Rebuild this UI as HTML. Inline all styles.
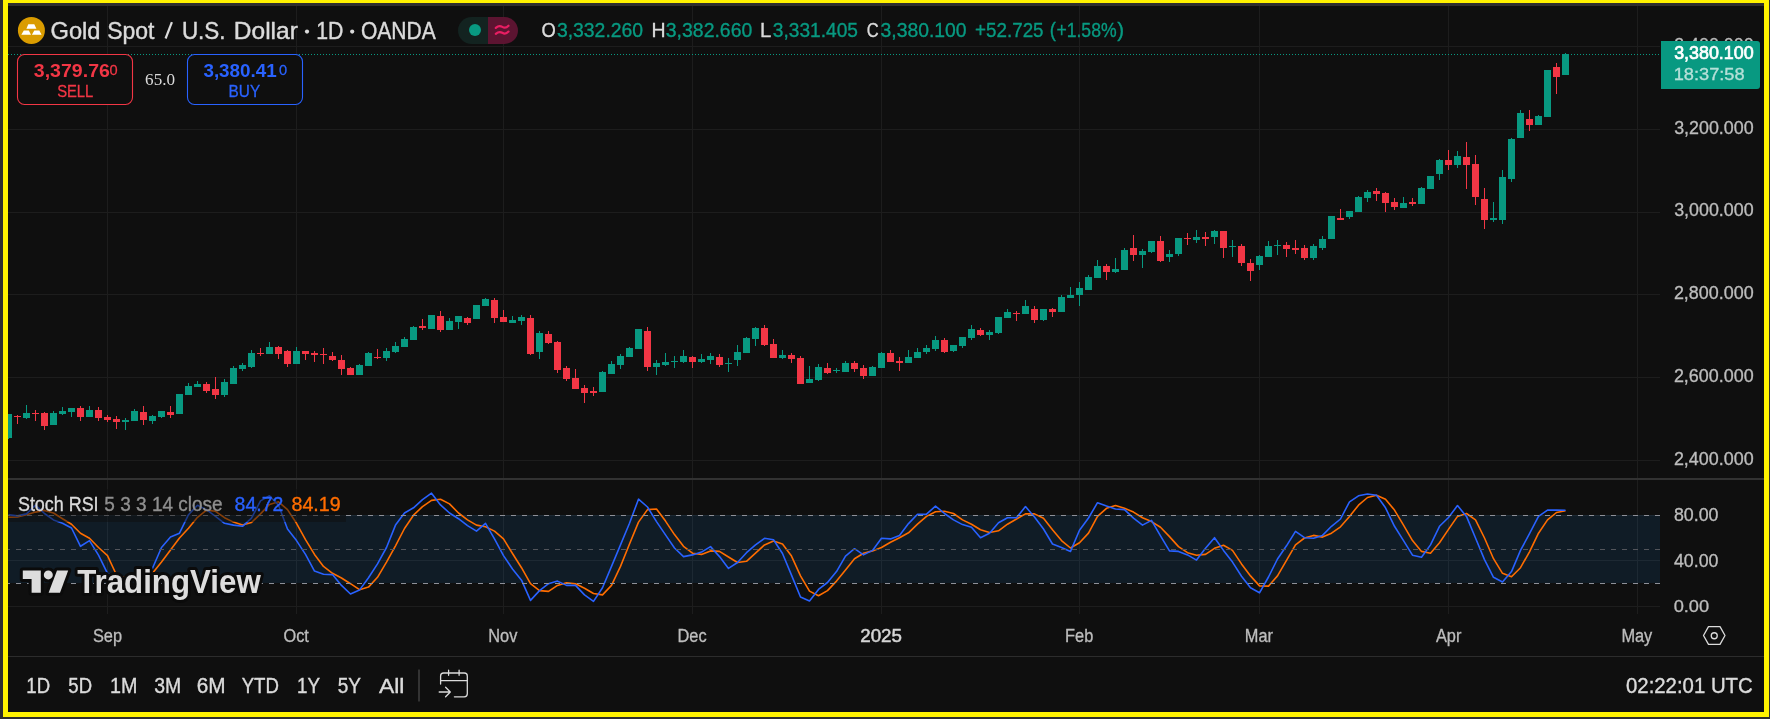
<!DOCTYPE html>
<html><head><meta charset="utf-8"><style>
html,body{margin:0;padding:0}
body{width:1770px;height:719px;background:#2e2e2e;overflow:hidden;position:relative;font-family:"Liberation Sans",sans-serif}
#frame{position:absolute;left:3px;top:-2px;width:1766px;height:719px;border:5px solid #fff200;box-sizing:border-box}
#app{position:absolute;left:8px;top:3px;width:1756px;height:709px;background:#0f0f0f}
#strip{position:absolute;left:8px;top:3px;width:1756px;height:3px;background:#2e2e2e}
#chart{position:absolute;left:0;top:0;will-change:transform}
</style></head><body>
<div id="frame"></div><div id="app"></div><div id="strip"></div>
<svg id="chart" width="1770" height="719" viewBox="0 0 1770 719">
<defs><clipPath id="cp"><rect x="8" y="6" width="1652" height="472"/></clipPath>
<clipPath id="cs"><rect x="8" y="480" width="1652" height="134"/></clipPath></defs>
<g stroke="#1d1d1d" stroke-width="1" shape-rendering="crispEdges"><line x1="107.5" y1="6" x2="107.5" y2="614" /><line x1="296.5" y1="6" x2="296.5" y2="614" /><line x1="503.5" y1="6" x2="503.5" y2="614" /><line x1="692.5" y1="6" x2="692.5" y2="614" /><line x1="881.5" y1="6" x2="881.5" y2="614" /><line x1="1079.5" y1="6" x2="1079.5" y2="614" /><line x1="1259.5" y1="6" x2="1259.5" y2="614" /><line x1="1448.5" y1="6" x2="1448.5" y2="614" /><line x1="1637.5" y1="6" x2="1637.5" y2="614" /><line x1="8" y1="46.5" x2="1660" y2="46.5" /><line x1="8" y1="129.5" x2="1660" y2="129.5" /><line x1="8" y1="212.5" x2="1660" y2="212.5" /><line x1="8" y1="294.5" x2="1660" y2="294.5" /><line x1="8" y1="377.5" x2="1660" y2="377.5" /><line x1="8" y1="460.5" x2="1660" y2="460.5" /><line x1="8" y1="515.5" x2="1660" y2="515.5" /><line x1="8" y1="560.5" x2="1660" y2="560.5" /><line x1="8" y1="606.5" x2="1660" y2="606.5" /></g>
<rect x="8" y="515" width="1652" height="68" fill="#2196f3" fill-opacity="0.1"/>
<rect x="8" y="478" width="1756" height="2" fill="#323232"/>
<rect x="8" y="656" width="1756" height="1" fill="#2c2c2c"/>
<g clip-path="url(#cp)" shape-rendering="crispEdges"><path fill="#089981" d="M8,414h1v25h-1z M5,414h7v24h-7z M26,405h1v14h-1z M23,413h7v5h-7z M53,411h1v14h-1z M50,413h7v12h-7z M62,407h1v8h-1z M59,411h7v3h-7z M71,408h1v9h-1z M68,408h7v4h-7z M89,406h1v11h-1z M86,410h7v7h-7z M125,418h1v12h-1z M122,420h7v2h-7z M134,409h1v12h-1z M131,411h7v10h-7z M152,415h1v9h-1z M149,416h7v5h-7z M161,411h1v7h-1z M158,411h7v6h-7z M179,394h1v20h-1z M176,394h7v20h-7z M188,383h1v12h-1z M185,386h7v9h-7z M197,381h1v6h-1z M194,384h7v3h-7z M224,379h1v18h-1z M221,382h7v13h-7z M233,366h1v18h-1z M230,368h7v16h-7z M242,363h1v8h-1z M239,365h7v4h-7z M251,350h1v18h-1z M248,353h7v14h-7z M269,342h1v12h-1z M266,347h7v7h-7z M296,347h1v17h-1z M293,351h7v13h-7z M359,364h1v11h-1z M356,365h7v10h-7z M368,352h1v14h-1z M365,353h7v13h-7z M386,348h1v13h-1z M383,351h7v7h-7z M395,342h1v11h-1z M392,346h7v6h-7z M404,337h1v10h-1z M401,339h7v8h-7z M413,326h1v14h-1z M410,327h7v13h-7z M431,315h1v14h-1z M428,315h7v14h-7z M449,318h1v12h-1z M446,321h7v9h-7z M458,316h1v13h-1z M455,316h7v6h-7z M476,305h1v14h-1z M473,305h7v14h-7z M485,298h1v8h-1z M482,299h7v7h-7z M512,316h1v7h-1z M509,320h7v3h-7z M521,315h1v10h-1z M518,317h7v4h-7z M539,331h1v28h-1z M536,333h7v19h-7z M602,371h1v21h-1z M599,372h7v20h-7z M611,361h1v13h-1z M608,364h7v10h-7z M620,354h1v15h-1z M617,356h7v9h-7z M629,347h1v10h-1z M626,348h7v9h-7z M638,329h1v20h-1z M635,329h7v20h-7z M656,360h1v15h-1z M653,363h7v4h-7z M665,353h1v13h-1z M662,362h7v3h-7z M674,356h1v12h-1z M671,361h7v1h-7z M683,350h1v13h-1z M680,356h7v6h-7z M701,354h1v9h-1z M698,359h7v3h-7z M710,353h1v11h-1z M707,356h7v4h-7z M728,358h1v14h-1z M725,363h7v1h-7z M737,345h1v21h-1z M734,352h7v8h-7z M746,337h1v16h-1z M743,338h7v15h-7z M755,327h1v19h-1z M752,328h7v11h-7z M782,350h1v9h-1z M779,355h7v3h-7z M809,366h1v17h-1z M806,379h7v4h-7z M818,364h1v17h-1z M815,367h7v13h-7z M836,368h1v5h-1z M833,370h7v1h-7z M845,361h1v11h-1z M842,363h7v9h-7z M872,366h1v10h-1z M869,367h7v9h-7z M881,352h1v16h-1z M878,353h7v15h-7z M908,350h1v13h-1z M905,357h7v6h-7z M917,348h1v10h-1z M914,352h7v6h-7z M926,345h1v9h-1z M923,348h7v4h-7z M935,336h1v15h-1z M932,340h7v9h-7z M953,345h1v7h-1z M950,345h7v6h-7z M962,337h1v11h-1z M959,337h7v9h-7z M971,325h1v15h-1z M968,329h7v9h-7z M989,330h1v10h-1z M986,332h7v3h-7z M998,317h1v17h-1z M995,317h7v16h-7z M1007,309h1v9h-1z M1004,312h7v6h-7z M1025,300h1v14h-1z M1022,306h7v8h-7z M1043,309h1v12h-1z M1040,309h7v11h-7z M1061,295h1v17h-1z M1058,297h7v15h-7z M1070,287h1v11h-1z M1067,295h7v3h-7z M1079,282h1v24h-1z M1076,288h7v7h-7z M1088,275h1v15h-1z M1085,277h7v13h-7z M1097,260h1v18h-1z M1094,266h7v12h-7z M1115,258h1v15h-1z M1112,269h7v3h-7z M1124,248h1v22h-1z M1121,250h7v20h-7z M1142,249h1v19h-1z M1139,251h7v4h-7z M1151,241h1v12h-1z M1148,241h7v11h-7z M1169,250h1v12h-1z M1166,254h7v3h-7z M1178,238h1v18h-1z M1175,238h7v16h-7z M1196,230h1v13h-1z M1193,237h7v3h-7z M1214,230h1v14h-1z M1211,231h7v6h-7z M1232,240h1v17h-1z M1229,246h7v1h-7z M1259,255h1v15h-1z M1256,256h7v9h-7z M1268,241h1v16h-1z M1265,246h7v11h-7z M1277,240h1v15h-1z M1274,245h7v1h-7z M1313,244h1v16h-1z M1310,246h7v12h-7z M1322,236h1v14h-1z M1319,239h7v9h-7z M1331,216h1v23h-1z M1328,216h7v23h-7z M1349,211h1v8h-1z M1346,211h7v6h-7z M1358,196h1v16h-1z M1355,197h7v15h-7z M1367,190h1v12h-1z M1364,192h7v6h-7z M1403,197h1v11h-1z M1400,203h7v5h-7z M1421,187h1v17h-1z M1418,188h7v16h-7z M1430,176h1v13h-1z M1427,176h7v13h-7z M1439,159h1v21h-1z M1436,160h7v14h-7z M1457,151h1v17h-1z M1454,156h7v9h-7z M1493,202h1v20h-1z M1490,218h7v2h-7z M1502,170h1v54h-1z M1499,177h7v43h-7z M1511,138h1v44h-1z M1508,139h7v40h-7z M1520,110h1v28h-1z M1517,113h7v25h-7z M1538,115h1v10h-1z M1535,116h7v9h-7z M1547,70h1v47h-1z M1544,70h7v47h-7z M1565,53h1v22h-1z M1562,54h7v21h-7z"/><path fill="#f23645" d="M17,415h1v9h-1z M14,416h7v1h-7z M35,410h1v11h-1z M32,413h7v1h-7z M44,412h1v18h-1z M41,413h7v13h-7z M80,406h1v15h-1z M77,408h7v9h-7z M98,407h1v14h-1z M95,410h7v8h-7z M107,415h1v7h-1z M104,417h7v3h-7z M116,416h1v13h-1z M113,419h7v3h-7z M143,406h1v19h-1z M140,412h7v8h-7z M170,406h1v12h-1z M167,412h7v3h-7z M206,382h1v11h-1z M203,384h7v7h-7z M215,377h1v22h-1z M212,389h7v6h-7z M260,348h1v8h-1z M257,353h7v1h-7z M278,346h1v13h-1z M275,347h7v7h-7z M287,350h1v17h-1z M284,351h7v13h-7z M305,351h1v9h-1z M302,351h7v3h-7z M314,351h1v11h-1z M311,353h7v2h-7z M323,348h1v16h-1z M320,354h7v1h-7z M332,352h1v9h-1z M329,356h7v4h-7z M341,355h1v20h-1z M338,360h7v9h-7z M350,367h1v8h-1z M347,368h7v7h-7z M377,349h1v10h-1z M374,357h7v1h-7z M422,319h1v11h-1z M419,326h7v2h-7z M440,311h1v21h-1z M437,316h7v14h-7z M467,317h1v8h-1z M464,318h7v5h-7z M494,298h1v25h-1z M491,300h7v18h-7z M503,310h1v12h-1z M500,317h7v5h-7z M530,315h1v40h-1z M527,318h7v36h-7z M548,331h1v13h-1z M545,334h7v9h-7z M557,341h1v32h-1z M554,342h7v28h-7z M566,366h1v15h-1z M563,368h7v11h-7z M575,369h1v20h-1z M572,378h7v11h-7z M584,385h1v18h-1z M581,388h7v5h-7z M593,387h1v9h-1z M590,391h7v2h-7z M647,327h1v44h-1z M644,331h7v36h-7z M692,356h1v12h-1z M689,357h7v5h-7z M719,354h1v13h-1z M716,357h7v8h-7z M764,325h1v21h-1z M761,328h7v17h-7z M773,339h1v19h-1z M770,344h7v14h-7z M791,353h1v10h-1z M788,355h7v4h-7z M800,356h1v28h-1z M797,358h7v26h-7z M827,363h1v11h-1z M824,368h7v5h-7z M854,361h1v11h-1z M851,363h7v6h-7z M863,365h1v14h-1z M860,368h7v8h-7z M890,350h1v12h-1z M887,353h7v9h-7z M899,357h1v14h-1z M896,361h7v2h-7z M944,338h1v15h-1z M941,340h7v12h-7z M980,328h1v8h-1z M977,330h7v5h-7z M1016,311h1v10h-1z M1013,313h7v1h-7z M1034,306h1v17h-1z M1031,309h7v11h-7z M1052,308h1v9h-1z M1049,309h7v3h-7z M1106,264h1v16h-1z M1103,266h7v6h-7z M1133,235h1v26h-1z M1130,248h7v7h-7z M1160,236h1v26h-1z M1157,241h7v20h-7z M1187,233h1v12h-1z M1184,238h7v1h-7z M1205,232h1v14h-1z M1202,237h7v2h-7z M1223,231h1v27h-1z M1220,231h7v17h-7z M1241,244h1v22h-1z M1238,246h7v17h-7z M1250,259h1v22h-1z M1247,263h7v8h-7z M1286,242h1v15h-1z M1283,245h7v4h-7z M1295,240h1v14h-1z M1292,248h7v2h-7z M1304,245h1v15h-1z M1301,248h7v10h-7z M1340,209h1v11h-1z M1337,218h7v2h-7z M1376,188h1v13h-1z M1373,191h7v3h-7z M1385,192h1v20h-1z M1382,193h7v10h-7z M1394,198h1v12h-1z M1391,202h7v5h-7z M1412,198h1v8h-1z M1409,202h7v2h-7z M1448,150h1v20h-1z M1445,160h7v5h-7z M1466,142h1v47h-1z M1463,157h7v8h-7z M1475,155h1v50h-1z M1472,164h7v33h-7z M1484,188h1v41h-1z M1481,199h7v21h-7z M1529,110h1v21h-1z M1526,119h7v6h-7z M1556,63h1v31h-1z M1553,67h7v10h-7z"/></g>
<line x1="1659" y1="54.5" x2="8" y2="54.5" stroke="#089981" stroke-width="1" stroke-dasharray="1 2" shape-rendering="crispEdges"/>
<g clip-path="url(#cs)"><polyline points="8.5,517.3 17.5,517.0 26.5,514.7 35.5,512.1 44.5,510.4 53.5,513.0 62.5,518.7 71.5,524.2 80.5,533.2 89.5,538.3 98.5,547.5 107.5,555.6 116.5,575.0 125.5,578.0 134.5,578.0 143.5,577.0 152.5,573.3 161.5,562.1 170.5,550.1 179.5,538.0 188.5,528.2 197.5,517.3 206.5,510.1 215.5,511.3 224.5,517.7 233.5,522.1 242.5,525.1 251.5,522.5 260.5,513.9 269.5,504.4 278.5,501.8 287.5,509.6 296.5,523.3 305.5,539.7 314.5,554.4 323.5,566.4 332.5,573.3 341.5,578.0 350.5,583.7 359.5,589.7 368.5,587.1 377.5,577.3 386.5,562.1 395.5,545.8 404.5,528.5 413.5,515.2 422.5,506.6 431.5,500.4 440.5,499.2 449.5,503.9 458.5,513.0 467.5,519.9 476.5,525.1 485.5,526.8 494.5,531.1 503.5,538.9 512.5,553.5 521.5,567.7 530.5,583.7 539.5,590.6 548.5,591.4 557.5,585.4 566.5,582.8 575.5,583.7 584.5,588.3 593.5,593.5 602.5,594.9 611.5,585.4 620.5,566.4 629.5,544.0 638.5,522.1 647.5,509.6 656.5,509.0 665.5,521.1 674.5,534.6 683.5,546.3 692.5,553.2 701.5,554.4 710.5,550.9 719.5,551.4 728.5,557.0 737.5,562.5 746.5,561.3 755.5,553.2 764.5,544.9 773.5,541.1 782.5,544.0 791.5,556.1 800.5,575.9 809.5,591.1 818.5,595.8 827.5,590.6 836.5,581.1 845.5,569.9 854.5,558.7 863.5,553.2 872.5,550.9 881.5,547.5 890.5,542.3 899.5,537.7 908.5,532.8 917.5,524.2 926.5,516.4 935.5,511.8 944.5,511.3 953.5,513.5 962.5,519.9 971.5,524.2 980.5,529.7 989.5,532.5 998.5,530.8 1007.5,524.2 1016.5,519.0 1025.5,513.9 1034.5,513.9 1043.5,518.2 1052.5,529.7 1061.5,540.6 1070.5,548.0 1079.5,542.8 1088.5,533.1 1097.5,516.4 1106.5,508.3 1115.5,505.6 1124.5,508.3 1133.5,512.1 1142.5,517.7 1151.5,521.6 1160.5,527.3 1169.5,536.6 1178.5,546.6 1187.5,552.7 1196.5,555.2 1205.5,554.4 1214.5,548.3 1223.5,545.2 1232.5,550.4 1241.5,563.9 1250.5,575.9 1259.5,585.9 1268.5,586.1 1277.5,575.9 1286.5,560.4 1295.5,544.9 1304.5,538.0 1313.5,535.4 1322.5,537.1 1331.5,533.2 1340.5,526.8 1349.5,516.4 1358.5,505.2 1367.5,497.5 1376.5,495.2 1385.5,499.2 1394.5,510.1 1403.5,525.1 1412.5,540.6 1421.5,551.4 1430.5,553.2 1439.5,542.8 1448.5,529.4 1457.5,516.4 1466.5,513.5 1475.5,519.9 1484.5,538.0 1493.5,558.7 1502.5,573.3 1511.5,576.8 1520.5,567.7 1529.5,551.8 1538.5,533.2 1547.5,519.9 1556.5,512.5 1565.5,510.8" fill="none" stroke="#ff6d00" stroke-width="1.6" stroke-linejoin="round"/><polyline points="8.5,514.7 17.5,515.9 26.5,513.9 35.5,505.2 44.5,513.5 53.5,519.9 62.5,523.3 71.5,528.0 80.5,546.3 89.5,540.6 98.5,555.2 107.5,573.3 116.5,579.0 125.5,582.0 134.5,579.0 143.5,576.0 152.5,568.2 161.5,547.5 170.5,537.1 179.5,533.2 188.5,514.7 197.5,505.2 206.5,509.6 215.5,516.4 224.5,523.3 233.5,525.1 242.5,526.3 251.5,518.2 260.5,500.9 269.5,495.8 278.5,505.2 287.5,529.0 296.5,540.6 305.5,554.4 314.5,571.1 323.5,574.2 332.5,574.6 341.5,585.4 350.5,594.0 359.5,590.1 368.5,577.8 377.5,563.9 386.5,547.5 395.5,525.1 404.5,513.0 413.5,507.8 422.5,499.7 431.5,493.2 440.5,504.9 449.5,513.0 458.5,518.7 467.5,525.6 476.5,531.1 485.5,523.3 494.5,538.9 503.5,555.6 512.5,569.0 521.5,580.2 530.5,600.4 539.5,590.6 548.5,583.7 557.5,581.1 566.5,585.4 575.5,585.4 584.5,594.9 593.5,601.4 602.5,587.7 611.5,566.4 620.5,544.9 629.5,523.3 638.5,499.2 647.5,507.0 656.5,521.6 665.5,534.9 674.5,548.0 683.5,556.6 692.5,554.9 701.5,552.1 710.5,546.6 719.5,556.6 728.5,568.4 737.5,562.5 746.5,552.7 755.5,544.9 764.5,538.3 773.5,539.7 782.5,553.5 791.5,575.1 800.5,597.0 809.5,600.9 818.5,589.4 827.5,582.5 836.5,571.6 845.5,556.1 854.5,548.7 863.5,554.9 872.5,550.4 881.5,538.3 890.5,538.9 899.5,535.4 908.5,523.6 917.5,514.2 926.5,514.2 935.5,506.1 944.5,513.5 953.5,519.9 962.5,524.6 971.5,527.3 980.5,537.7 989.5,533.2 998.5,522.8 1007.5,517.7 1016.5,517.7 1025.5,506.6 1034.5,517.0 1043.5,529.0 1052.5,544.0 1061.5,547.5 1070.5,551.4 1079.5,530.2 1088.5,518.0 1097.5,502.7 1106.5,506.1 1115.5,509.0 1124.5,509.6 1133.5,518.2 1142.5,525.1 1151.5,520.4 1160.5,535.9 1169.5,550.9 1178.5,551.4 1187.5,554.9 1196.5,560.1 1205.5,548.3 1214.5,537.7 1223.5,550.4 1232.5,562.1 1241.5,576.3 1250.5,587.7 1259.5,592.8 1268.5,577.0 1277.5,559.0 1286.5,545.8 1295.5,531.4 1304.5,537.7 1313.5,538.3 1322.5,535.4 1331.5,526.3 1340.5,519.0 1349.5,501.8 1358.5,495.8 1367.5,494.0 1376.5,495.2 1385.5,507.8 1394.5,526.3 1403.5,540.6 1412.5,555.2 1421.5,557.3 1430.5,544.9 1439.5,526.3 1448.5,517.5 1457.5,505.6 1466.5,516.4 1475.5,538.0 1484.5,559.6 1493.5,577.3 1502.5,582.0 1511.5,571.6 1520.5,550.4 1529.5,533.7 1538.5,516.4 1547.5,510.1 1556.5,510.1 1565.5,510.2" fill="none" stroke="#2962ff" stroke-width="1.6" stroke-linejoin="round"/></g>
<g shape-rendering="crispEdges" stroke-width="1" stroke-dasharray="5 6">
<line x1="1660" y1="515.5" x2="8" y2="515.5" stroke="#8e9098"/>
<line x1="1660" y1="549.5" x2="8" y2="549.5" stroke="#53555b"/>
<line x1="1660" y1="583.5" x2="8" y2="583.5" stroke="#8e9098"/>
</g>
<g id="tvlogo">
<g stroke="#0b0b0b" stroke-width="6" stroke-linejoin="round" fill="#0b0b0b">
<path d="M22.8,570.4H40.8V592.8H31.6V578.9H22.8Z"/><circle cx="48.3" cy="574.9" r="4.5"/><path d="M57,570.4H68.2L60,592.8H48.6Z"/>
<text x="77.2" y="592.8" font-family="Liberation Sans" font-weight="bold" font-size="32.5" textLength="183.5" lengthAdjust="spacingAndGlyphs">TradingView</text>
</g>
<g fill="#dddddd">
<path d="M22.8,570.4H40.8V592.8H31.6V578.9H22.8Z"/><circle cx="48.3" cy="574.9" r="4.5"/><path d="M57,570.4H68.2L60,592.8H48.6Z"/>
<text x="77.2" y="592.8" font-family="Liberation Sans" font-weight="bold" font-size="32.5" textLength="183.5" lengthAdjust="spacingAndGlyphs">TradingView</text>
</g></g>
<rect x="8" y="489" width="338" height="33" fill="#0f0f0f" fill-opacity="0.5"/>
<g><circle cx="31.4" cy="30.4" r="13.5" fill="#da9c00"/>
<path fill="#ffffff" d="M28.3,24.2H34.3L36.4,28.7H26.4Z M23.8,30.4H28.8L31,34.8H21.3Z M34.3,30.4H39.3L41.6,34.8H31.9Z"/></g>
<line x1="165.6" y1="38.5" x2="171.9" y2="22.2" stroke="#dbdbdb" stroke-width="2.2"/><circle cx="307" cy="31.6" r="2.1" fill="#dbdbdb"/><circle cx="352.2" cy="31.6" r="2.1" fill="#dbdbdb"/>
<g><path d="M471.5,17H488V44H471.5A13.5,13.5 0 0 1 471.5,17Z" fill="#132320"/>
<path d="M488,17H504.5A13.5,13.5 0 0 1 504.5,44H488Z" fill="#5c1431"/>
<circle cx="475" cy="30" r="6" fill="#089981"/>
<path d="M495.8,27.9c2.5,-2.2 4.5,-2.2 6.5,-1 s4,1.2 6.2,-1.2 M495.8,33.8c2.5,-2.2 4.5,-2.2 6.5,-1 s4,1.2 6.2,-1.2" stroke="#e91e63" stroke-width="2.2" fill="none" stroke-linecap="round"/></g>
<rect x="17.5" y="54.5" width="115" height="50" rx="7" fill="#0f0f0f" stroke="#f23645" stroke-width="1.1"/>
<rect x="187.5" y="54.5" width="115" height="50" rx="7" fill="#0f0f0f" stroke="#2962ff" stroke-width="1.1"/>
<text x="50.52" y="38.80" font-size="24.28" font-weight="normal" font-family="Liberation Sans" fill="#dbdbdb" textLength="50.03" lengthAdjust="spacingAndGlyphs" stroke="#dbdbdb" stroke-width="0.44">Gold</text>
<text x="107.27" y="38.80" font-size="23.83" font-weight="normal" font-family="Liberation Sans" fill="#dbdbdb" textLength="47.20" lengthAdjust="spacingAndGlyphs" stroke="#dbdbdb" stroke-width="0.43">Spot</text>
<text x="181.92" y="38.80" font-size="23.55" font-weight="normal" font-family="Liberation Sans" fill="#dbdbdb" textLength="43.66" lengthAdjust="spacingAndGlyphs" stroke="#dbdbdb" stroke-width="0.42">U.S.</text>
<text x="233.84" y="38.80" font-size="24.28" font-weight="normal" font-family="Liberation Sans" fill="#dbdbdb" textLength="63.98" lengthAdjust="spacingAndGlyphs" stroke="#dbdbdb" stroke-width="0.44">Dollar</text>
<text x="316.20" y="38.80" font-size="23.77" font-weight="normal" font-family="Liberation Sans" fill="#dbdbdb" textLength="27.20" lengthAdjust="spacingAndGlyphs" stroke="#dbdbdb" stroke-width="0.43">1D</text>
<text x="360.95" y="38.80" font-size="24.00" font-weight="normal" font-family="Liberation Sans" fill="#dbdbdb" textLength="74.78" lengthAdjust="spacingAndGlyphs" stroke="#dbdbdb" stroke-width="0.43">OANDA</text>
<text x="541.57" y="36.90" font-size="20.14" font-weight="normal" font-family="Liberation Sans" fill="#dbdbdb" textLength="14.31" lengthAdjust="spacingAndGlyphs" stroke="#dbdbdb" stroke-width="0.36">O</text>
<text x="556.92" y="36.90" font-size="19.86" font-weight="normal" font-family="Liberation Sans" fill="#089981" textLength="86.18" lengthAdjust="spacingAndGlyphs" stroke="#089981" stroke-width="0.36">3,332.260</text>
<text x="651.44" y="36.90" font-size="20.14" font-weight="normal" font-family="Liberation Sans" fill="#dbdbdb" textLength="14.06" lengthAdjust="spacingAndGlyphs" stroke="#dbdbdb" stroke-width="0.36">H</text>
<text x="665.82" y="36.90" font-size="19.72" font-weight="normal" font-family="Liberation Sans" fill="#089981" textLength="86.48" lengthAdjust="spacingAndGlyphs" stroke="#089981" stroke-width="0.35">3,382.660</text>
<text x="759.98" y="36.90" font-size="20.14" font-weight="normal" font-family="Liberation Sans" fill="#dbdbdb" textLength="11.25" lengthAdjust="spacingAndGlyphs" stroke="#dbdbdb" stroke-width="0.36">L</text>
<text x="772.83" y="36.90" font-size="19.86" font-weight="normal" font-family="Liberation Sans" fill="#089981" textLength="85.16" lengthAdjust="spacingAndGlyphs" stroke="#089981" stroke-width="0.36">3,331.405</text>
<text x="866.77" y="36.90" font-size="20.14" font-weight="normal" font-family="Liberation Sans" fill="#dbdbdb" textLength="11.94" lengthAdjust="spacingAndGlyphs" stroke="#dbdbdb" stroke-width="0.36">C</text>
<text x="880.52" y="36.90" font-size="19.72" font-weight="normal" font-family="Liberation Sans" fill="#089981" textLength="86.08" lengthAdjust="spacingAndGlyphs" stroke="#089981" stroke-width="0.35">3,380.100</text>
<text x="975.05" y="36.90" font-size="19.86" font-weight="normal" font-family="Liberation Sans" fill="#089981" textLength="68.52" lengthAdjust="spacingAndGlyphs" stroke="#089981" stroke-width="0.36">+52.725</text>
<text x="1049.79" y="36.90" font-size="20.69" font-weight="normal" font-family="Liberation Sans" fill="#089981" textLength="6.17" lengthAdjust="spacingAndGlyphs" stroke="#089981" stroke-width="0.37">(</text>
<text x="1056.41" y="36.90" font-size="19.72" font-weight="normal" font-family="Liberation Sans" fill="#089981" textLength="60.19" lengthAdjust="spacingAndGlyphs" stroke="#089981" stroke-width="0.35">+1.58%</text>
<text x="1117.20" y="36.90" font-size="20.69" font-weight="normal" font-family="Liberation Sans" fill="#089981" textLength="6.78" lengthAdjust="spacingAndGlyphs" stroke="#089981" stroke-width="0.37">)</text>
<text x="33.81" y="77.00" font-size="18.86" font-weight="bold" font-family="Liberation Sans" fill="#f23645" textLength="76.10" lengthAdjust="spacingAndGlyphs">3,379.76</text>
<text x="109.39" y="74.70" font-size="15.00" font-weight="normal" font-family="Liberation Sans" fill="#f23645" textLength="8.14" lengthAdjust="spacingAndGlyphs" stroke="#f23645" stroke-width="0.27">0</text>
<text x="57.13" y="96.90" font-size="17.02" font-weight="normal" font-family="Liberation Sans" fill="#f23645" textLength="36.23" lengthAdjust="spacingAndGlyphs" stroke="#f23645" stroke-width="0.31">SELL</text>
<text x="145.11" y="85.10" font-size="16.84" font-weight="normal" font-family="Liberation Serif" fill="#dbdbdb" textLength="29.99" lengthAdjust="spacingAndGlyphs">65.0</text>
<text x="203.42" y="77.00" font-size="18.86" font-weight="bold" font-family="Liberation Sans" fill="#2962ff" textLength="73.37" lengthAdjust="spacingAndGlyphs">3,380.41</text>
<text x="279.09" y="74.70" font-size="15.29" font-weight="normal" font-family="Liberation Sans" fill="#2962ff" textLength="8.14" lengthAdjust="spacingAndGlyphs" stroke="#2962ff" stroke-width="0.28">0</text>
<text x="228.57" y="96.80" font-size="17.25" font-weight="normal" font-family="Liberation Sans" fill="#2962ff" textLength="31.57" lengthAdjust="spacingAndGlyphs" stroke="#2962ff" stroke-width="0.31">BUY</text>
<text x="26.36" y="692.80" font-size="21.59" font-weight="normal" font-family="Liberation Sans" fill="#dbdbdb" textLength="23.82" lengthAdjust="spacingAndGlyphs" stroke="#dbdbdb" stroke-width="0.39">1D</text>
<text x="68.36" y="692.80" font-size="21.59" font-weight="normal" font-family="Liberation Sans" fill="#dbdbdb" textLength="23.72" lengthAdjust="spacingAndGlyphs" stroke="#dbdbdb" stroke-width="0.39">5D</text>
<text x="109.92" y="692.80" font-size="21.59" font-weight="normal" font-family="Liberation Sans" fill="#dbdbdb" textLength="27.42" lengthAdjust="spacingAndGlyphs" stroke="#dbdbdb" stroke-width="0.39">1M</text>
<text x="154.22" y="692.80" font-size="21.29" font-weight="normal" font-family="Liberation Sans" fill="#dbdbdb" textLength="27.00" lengthAdjust="spacingAndGlyphs" stroke="#dbdbdb" stroke-width="0.38">3M</text>
<text x="196.66" y="692.80" font-size="21.29" font-weight="normal" font-family="Liberation Sans" fill="#dbdbdb" textLength="28.86" lengthAdjust="spacingAndGlyphs" stroke="#dbdbdb" stroke-width="0.38">6M</text>
<text x="241.63" y="692.80" font-size="21.44" font-weight="normal" font-family="Liberation Sans" fill="#dbdbdb" textLength="37.25" lengthAdjust="spacingAndGlyphs" stroke="#dbdbdb" stroke-width="0.39">YTD</text>
<text x="297.09" y="692.80" font-size="21.59" font-weight="normal" font-family="Liberation Sans" fill="#dbdbdb" textLength="23.03" lengthAdjust="spacingAndGlyphs" stroke="#dbdbdb" stroke-width="0.39">1Y</text>
<text x="337.74" y="692.80" font-size="21.59" font-weight="normal" font-family="Liberation Sans" fill="#dbdbdb" textLength="23.28" lengthAdjust="spacingAndGlyphs" stroke="#dbdbdb" stroke-width="0.39">5Y</text>
<text x="379.00" y="692.80" font-size="21.10" font-weight="normal" font-family="Liberation Sans" fill="#dbdbdb" textLength="25.42" lengthAdjust="spacingAndGlyphs" stroke="#dbdbdb" stroke-width="0.38">All</text>
<text x="1625.99" y="692.90" font-size="21.71" font-weight="normal" font-family="Liberation Sans" fill="#dbdbdb" textLength="126.77" lengthAdjust="spacingAndGlyphs" stroke="#dbdbdb" stroke-width="0.39">02:22:01 UTC</text>
<text x="1674.17" y="51.30" font-size="18.71" font-weight="normal" font-family="Liberation Sans" fill="#bdbdbd" textLength="79.47" lengthAdjust="spacingAndGlyphs" stroke="#bdbdbd" stroke-width="0.34">3,400.000</text>
<text x="1674.17" y="133.95" font-size="18.64" font-weight="normal" font-family="Liberation Sans" fill="#bdbdbd" textLength="79.47" lengthAdjust="spacingAndGlyphs" stroke="#bdbdbd" stroke-width="0.34">3,200.000</text>
<text x="1674.17" y="215.90" font-size="18.50" font-weight="normal" font-family="Liberation Sans" fill="#bdbdbd" textLength="79.47" lengthAdjust="spacingAndGlyphs" stroke="#bdbdbd" stroke-width="0.33">3,000.000</text>
<text x="1673.90" y="298.90" font-size="18.58" font-weight="normal" font-family="Liberation Sans" fill="#bdbdbd" textLength="79.74" lengthAdjust="spacingAndGlyphs" stroke="#bdbdbd" stroke-width="0.33">2,800.000</text>
<text x="1673.90" y="381.90" font-size="18.71" font-weight="normal" font-family="Liberation Sans" fill="#bdbdbd" textLength="79.74" lengthAdjust="spacingAndGlyphs" stroke="#bdbdbd" stroke-width="0.34">2,600.000</text>
<text x="1673.90" y="464.90" font-size="18.71" font-weight="normal" font-family="Liberation Sans" fill="#bdbdbd" textLength="79.74" lengthAdjust="spacingAndGlyphs" stroke="#bdbdbd" stroke-width="0.34">2,400.000</text>
<text x="1673.89" y="520.80" font-size="17.73" font-weight="normal" font-family="Liberation Sans" fill="#bdbdbd" textLength="44.56" lengthAdjust="spacingAndGlyphs" stroke="#bdbdbd" stroke-width="0.32">80.00</text>
<text x="1673.94" y="566.90" font-size="17.86" font-weight="normal" font-family="Liberation Sans" fill="#bdbdbd" textLength="44.50" lengthAdjust="spacingAndGlyphs" stroke="#bdbdbd" stroke-width="0.32">40.00</text>
<text x="1673.66" y="612.00" font-size="17.14" font-weight="normal" font-family="Liberation Sans" fill="#bdbdbd" textLength="35.50" lengthAdjust="spacingAndGlyphs" stroke="#bdbdbd" stroke-width="0.31">0.00</text>
<text x="92.91" y="641.80" font-size="18.01" font-weight="normal" font-family="Liberation Sans" fill="#bdbdbd" textLength="29.11" lengthAdjust="spacingAndGlyphs" stroke="#bdbdbd" stroke-width="0.32">Sep</text>
<text x="283.43" y="641.80" font-size="18.14" font-weight="normal" font-family="Liberation Sans" fill="#bdbdbd" textLength="25.45" lengthAdjust="spacingAndGlyphs" stroke="#bdbdbd" stroke-width="0.33">Oct</text>
<text x="488.30" y="641.80" font-size="18.41" font-weight="normal" font-family="Liberation Sans" fill="#bdbdbd" textLength="29.09" lengthAdjust="spacingAndGlyphs" stroke="#bdbdbd" stroke-width="0.33">Nov</text>
<text x="677.50" y="641.80" font-size="18.41" font-weight="normal" font-family="Liberation Sans" fill="#bdbdbd" textLength="29.09" lengthAdjust="spacingAndGlyphs" stroke="#bdbdbd" stroke-width="0.33">Dec</text>
<text x="860.26" y="642.00" font-size="18.57" font-weight="normal" font-family="Liberation Sans" fill="#d6d6d6" textLength="41.71" lengthAdjust="spacingAndGlyphs" stroke="#d6d6d6" stroke-width="0.5">2025</text>
<text x="1065.09" y="641.80" font-size="17.52" font-weight="normal" font-family="Liberation Sans" fill="#bdbdbd" textLength="28.19" lengthAdjust="spacingAndGlyphs" stroke="#bdbdbd" stroke-width="0.32">Feb</text>
<text x="1244.86" y="641.80" font-size="18.41" font-weight="normal" font-family="Liberation Sans" fill="#bdbdbd" textLength="28.17" lengthAdjust="spacingAndGlyphs" stroke="#bdbdbd" stroke-width="0.33">Mar</text>
<text x="1435.88" y="641.80" font-size="18.41" font-weight="normal" font-family="Liberation Sans" fill="#bdbdbd" textLength="25.46" lengthAdjust="spacingAndGlyphs" stroke="#bdbdbd" stroke-width="0.33">Apr</text>
<text x="1621.39" y="641.80" font-size="18.41" font-weight="normal" font-family="Liberation Sans" fill="#bdbdbd" textLength="30.91" lengthAdjust="spacingAndGlyphs" stroke="#bdbdbd" stroke-width="0.33">May</text>
<path d="M1661,41H1757a3,3 0 0 1 3,3V86a3,3 0 0 1 -3,3H1661Z" fill="#089981"/>
<text x="1674.17" y="58.70" font-size="17.87" font-weight="normal" font-family="Liberation Sans" fill="#ffffff" textLength="79.47" lengthAdjust="spacingAndGlyphs" stroke="#ffffff" stroke-width="0.7">3,380.100</text>
<text x="1673.73" y="79.60" font-size="17.16" font-weight="normal" font-family="Liberation Sans" fill="#b5e0d8" textLength="70.92" lengthAdjust="spacingAndGlyphs" stroke="#b5e0d8" stroke-width="0.31">18:37:58</text>
<text x="17.94" y="510.60" font-size="20.00" font-weight="normal" font-family="Liberation Sans" fill="#dbdbdb" textLength="80.63" lengthAdjust="spacingAndGlyphs" stroke="#dbdbdb" stroke-width="0.36">Stoch RSI</text>
<text x="104.34" y="510.60" font-size="20.00" font-weight="normal" font-family="Liberation Sans" fill="#8f8f8f" textLength="118.34" lengthAdjust="spacingAndGlyphs" stroke="#8f8f8f" stroke-width="0.36">5 3 3 14 close</text>
<text x="234.62" y="510.60" font-size="19.29" font-weight="normal" font-family="Liberation Sans" fill="#2962ff" textLength="48.78" lengthAdjust="spacingAndGlyphs" stroke="#2962ff" stroke-width="0.35">84.72</text>
<text x="291.52" y="510.60" font-size="19.29" font-weight="normal" font-family="Liberation Sans" fill="#ff6d00" textLength="49.09" lengthAdjust="spacingAndGlyphs" stroke="#ff6d00" stroke-width="0.35">84.19</text>
<g fill="none" stroke="#dbdbdb" stroke-width="1.3"><path d="M1703.5,635.5L1708.5,626.6H1720L1725,635.5L1720,644.4H1708.5Z" stroke-linejoin="round"/><circle cx="1714.25" cy="635.75" r="3"/></g>
<rect x="418.3" y="669.5" width="1.4" height="32" fill="#434343"/>
<g fill="none" stroke="#dbdbdb" stroke-width="1.3" stroke-linecap="round" stroke-linejoin="round">
<path d="M440.6,684V676a3,3 0 0 1 3,-3H464.3a3,3 0 0 1 3,3V693.8a3,3 0 0 1 -3,3H454.4"/>
<path d="M440.6,680.7H467.3"/><path d="M448.6,670.2V675.3M459.1,670.2V675.3"/>
<path d="M439.2,692H450.2M445.6,687.3L450.3,692L445.6,696.7"/></g>
</svg>
</body></html>
